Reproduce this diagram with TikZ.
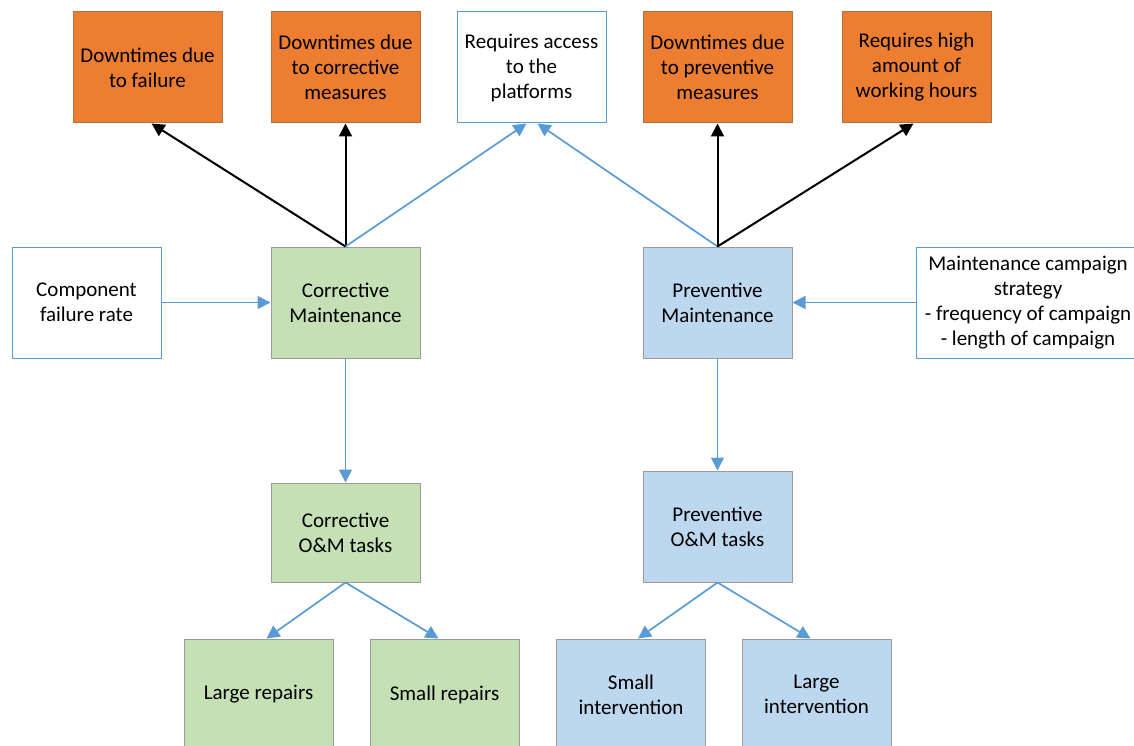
\documentclass[tikz,border=0pt]{standalone}
\usepackage{fontspec}
\setmainfont{Carlito}
\usetikzlibrary{arrows.meta}
\definecolor{orangefill}{HTML}{ED7D31}
\definecolor{orangeline}{HTML}{B0703F}
\definecolor{greenfill}{HTML}{C5E0B4}
\definecolor{bluefill}{HTML}{BDD7EE}
\definecolor{grayline}{HTML}{9A9A9A}
\definecolor{linkblue}{HTML}{5B9BD5}
\tikzset{
  box/.style={rectangle, minimum width=149pt, minimum height=111pt, inner sep=0pt,
    align=center, line width=1pt, font=\fontsize{21}{25}\selectfont},
  effect/.style={box, fill=orangefill, draw=orangeline},
  input/.style={box, fill=white, draw=linkblue},
  corr/.style={box, fill=greenfill, draw=grayline},
  prev/.style={box, fill=bluefill, draw=grayline},
  blacklink/.style={line width=2pt, black, -{Triangle[length=13pt,width=13pt]}},
  bluelink/.style={line width=1.7pt, linkblue, -{Triangle[length=13pt,width=13pt]}}
}
\begin{document}
\begin{tikzpicture}[x=1pt,y=-1pt]
\useasboundingbox (0,0) rectangle (1134,746);

% top row: consequences
\node[effect] (fail)  at (147.5,67.5) {Downtimes due\\to failure};
\node[effect] (cmeas) at (345.5,67.5) {Downtimes due\\to corrective\\measures};
\node[input]  (access) at (531.5,67.5) {Requires access\\to the\\platforms};
\node[effect] (pmeas) at (717.5,67.5) {Downtimes due\\to preventive\\measures};
\node[effect] (hours) at (916.5,67.5) {Requires high\\amount of\\working hours};

% middle row: maintenance types and their inputs
\node[input] (rate) at (86.5,302.5) {Component\\failure rate};
\node[corr]  (cm)   at (345.5,302.5) {Corrective\\Maintenance};
\node[prev]  (pm)   at (717.5,302.5) {Preventive\\Maintenance};
\node[input, minimum width=224pt] (camp) at (1028,302.5)
  {Maintenance campaign\\strategy\\- frequency of campaign\\- length of campaign};

% task rows
\node[corr, minimum height=99pt] (ctask) at (345.5,532.5) {Corrective\\O\&M tasks};
\node[prev] (ptask) at (717.5,526.5) {Preventive\\O\&M tasks};

\node[corr] (large)  at (258.5,694.5) {Large repairs};
\node[corr] (small)  at (444.5,694.5) {Small repairs};
\node[prev] (smalli) at (631,694.5) {Small\\intervention};
\node[prev] (largei) at (816.5,694.5) {Large\\intervention};

% consequences
\draw[blacklink] (cm.north) -- ([xshift=4pt]fail.south);
\draw[blacklink] (cm.north) -- (cmeas.south);
\draw[bluelink]  (cm.north) -- ([xshift=-5pt]access.south);
\draw[bluelink]  (pm.north) -- ([xshift=6pt]access.south);
\draw[blacklink] (pm.north) -- (pmeas.south);
\draw[blacklink] (pm.north) -- ([xshift=-3pt]hours.south);

% inputs
\draw[bluelink] (rate.east) -- (cm.west);
\draw[bluelink] (camp.west) -- (pm.east);

% tasks
\draw[bluelink] (cm.south) -- (ctask.north);
\draw[bluelink] (pm.south) -- (ptask.north);
\draw[bluelink] (ctask.south) -- ([xshift=8pt]large.north);
\draw[bluelink] (ctask.south) -- ([xshift=-6pt]small.north);
\draw[bluelink] (ptask.south) -- ([xshift=7pt]smalli.north);
\draw[bluelink] (ptask.south) -- ([xshift=-6pt]largei.north);
\end{tikzpicture}
\end{document}
